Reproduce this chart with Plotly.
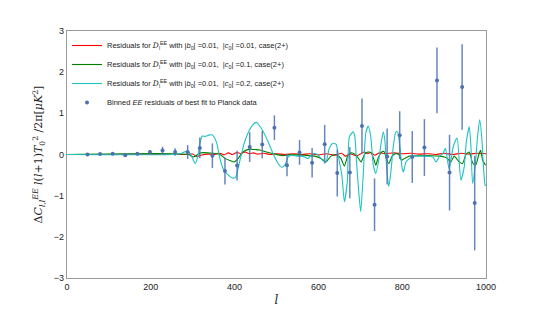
import plotly.graph_objects as go

# Binned EE residuals
bin_l = [49, 79, 109, 139, 168, 198, 228, 258, 288, 317, 347, 377, 406, 436, 466, 495,
         525, 555, 585, 615, 645, 675, 704, 734, 764, 794, 824, 853, 883, 913, 943, 973]
bin_val = [0.0, 0.01, 0.02, -0.02, 0.02, 0.06, 0.1, 0.06, 0.06, 0.16, -0.03, -0.4, -0.27, 0.18, 0.24, 0.65,
           -0.26, 0.05, -0.2, 0.25, -0.45, -0.44, 0.69, -1.22, -0.05, 0.47, -0.06, 0.17, 1.8, -0.44, 1.64, -1.18]
bin_err = [0.02, 0.02, 0.03, 0.03, 0.04, 0.05, 0.09, 0.09, 0.17, 0.25, 0.3, 0.33, 0.36, 0.36, 0.33, 0.3,
           0.27, 0.3, 0.36, 0.47, 0.57, 0.62, 0.67, 0.64, 0.68, 0.58, 0.63, 0.69, 0.8, 0.92, 1.04, 1.15]

# Residual curves
red_l = [0, 280, 300, 310, 320, 335, 350, 365, 375, 385, 395, 405, 415, 425, 435, 445, 455, 470, 485, 500,
         520, 540, 560, 580, 600, 620, 640, 655, 665, 675, 690, 700, 710, 718, 725, 735, 745, 760, 780, 800,
         820, 840, 860, 880, 900, 920, 940, 960, 980, 1000]
red_v = [0, 0, 0.01, -0.05, -0.02, 0.01, 0.0, 0.03, -0.01, 0.04, 0.0, 0.05, 0.02, 0.06, 0.02, 0.04, 0.01, 0.03, 0.0, 0.02,
         0.0, 0.02, 0.0, 0.02, -0.01, 0.02, -0.02, 0.03, -0.04, 0.02, -0.03, 0.01, 0.06, 0.02, 0.05, -0.02, 0.04, 0.02, 0.04, 0.02,
         0.03, 0.01, 0.02, 0.0, 0.03, 0.0, 0.03, 0.01, 0.03, 0.02]

green_l = [0, 290, 301, 312, 320, 348, 365, 378, 390, 399, 408, 420, 436, 449, 460, 476, 500, 516, 528, 545,
           567, 591, 607, 618, 630, 642, 654, 662, 670, 678, 688, 696, 702, 710, 718, 726, 733, 737, 742, 751,
           757, 762, 768, 776, 784, 792, 798, 805, 817, 840, 870, 890, 901, 908, 916, 924, 936, 944, 952, 960,
           968, 975, 983, 987, 992, 999]
green_v = [0, 0, -0.06, 0.0, 0.04, 0.03, 0.0, -0.1, -0.15, -0.18, -0.1, 0.06, 0.13, 0.12, 0.11, 0.06, 0.0, -0.03, -0.01, -0.01,
           -0.02, -0.04, -0.1, -0.18, -0.04, 0.0, -0.1, -0.28, -0.04, 0.04, 0.0, -0.1, -0.18, 0.0, 0.06, 0.04, -0.14, -0.26, -0.1, 0.06,
           0.07, -0.1, -0.22, -0.04, 0.02, 0.0, -0.14, -0.1, -0.04, -0.03, -0.03, -0.04, -0.06, -0.1, -0.18, -0.04, -0.18, -0.22, 0.0, 0.06,
           -0.2, -0.26, 0.0, 0.1, -0.14, -0.26]

cyan_l = [0, 250, 270, 283, 292, 300, 306, 312, 318, 323, 330, 338, 346, 353, 358, 365, 373, 385, 395, 402,
          412, 424, 440, 452, 464, 480, 492, 504, 512, 520, 528, 536, 548, 560, 567, 575, 587, 598, 610, 618,
          626, 634, 642, 650, 656, 662, 669, 674, 683, 687, 691, 697, 701, 707, 713, 719, 725, 731, 737, 744,
          750, 755, 759, 763, 768, 773, 779, 785, 789, 795, 800, 803, 809, 817, 825, 841, 857, 873, 881, 889,
          897, 903, 912, 922, 931, 940, 948, 953, 960, 964, 968, 974, 980, 985, 990, 994, 998, 1000]
cyan_v = [0, 0, 0.02, 0.07, 0.05, -0.1, -0.22, -0.05, 0.3, 0.45, 0.44, 0.47, 0.48, 0.39, 0.25, -0.1, -0.35, -0.5, -0.57, -0.56,
          -0.18, 0.31, 0.67, 0.78, 0.63, 0.31, 0.02, -0.22, -0.31, -0.26, -0.06, -0.02, -0.04, -0.04, -0.06, -0.1, 0.02, 0.0, -0.14, -0.18,
          0.15, 0.27, 0.25, -0.18, -0.5, -1.15, -0.66, 0.43, 0.55, 0.43, -0.18, -0.99, -1.39, -0.5, 0.51, 0.69, 0.43, -0.26, -0.46, -0.14,
          0.3, 0.55, 0.3, -0.34, -0.78, -0.42, 0.22, 0.55, 0.55, 0.15, -0.34, -0.42, -0.18, -0.1, -0.04, -0.04, -0.04, -0.06, -0.18, -0.04,
          0.02, 0.15, -0.35, 0.2, 0.4, -0.62, -0.3, 0.3, 0.67, 0.2, -0.7, -0.3, 0.45, 0.84, 0.4, -0.3, -0.75, -0.76]

x_ticks = [0, 200, 400, 600, 800, 1000]
y_ticks = [-3, -2, -1, 0, 1, 2, 3]

D = '<span style="font-family:DejaVu Serif"><i>D</i></span>'
names = [
    f"Residuals for {D}<sub>l</sub><sup>EE</sup> with |<i>b</i><sub>0</sub>| =0.01,  |<i>c</i><sub>0</sub>| =0.01, case(2+)",
    f"Residuals for {D}<sub>l</sub><sup>EE</sup> with |<i>b</i><sub>0</sub>| =0.01,  |<i>c</i><sub>0</sub>| =0.1, case(2+)",
    f"Residuals for {D}<sub>l</sub><sup>EE</sup> with |<i>b</i><sub>0</sub>| =0.01,  |<i>c</i><sub>0</sub>| =0.2, case(2+)",
    "Binned <i>EE</i> residuals of best fit to Planck data",
]

fig = go.Figure()
fig.add_trace(go.Scatter(x=red_l, y=red_v, mode="lines", name=names[0],
                         line=dict(color="#ff0000", width=1.1, shape="spline", smoothing=0.6)))
fig.add_trace(go.Scatter(x=green_l, y=green_v, mode="lines", name=names[1],
                         line=dict(color="#008000", width=1.1, shape="spline", smoothing=0.6)))
fig.add_trace(go.Scatter(x=cyan_l, y=cyan_v, mode="lines", name=names[2],
                         line=dict(color="#1fc3c3", width=1.1, shape="spline", smoothing=0.6)))
fig.add_trace(go.Scatter(x=bin_l, y=bin_val, mode="markers", name=names[3],
                         marker=dict(color="#4C72B0", size=4),
                         error_y=dict(type="data", array=bin_err, width=0, thickness=1.5,
                                      color="rgba(76,114,176,0.85)")))

fig.update_layout(
    width=540, height=310,
    margin=dict(l=67, r=54, t=31, b=32),
    paper_bgcolor="white", plot_bgcolor="white",
    font=dict(family="Liberation Sans, Arial, sans-serif", size=9, color="#222"),
    showlegend=True,
    legend=dict(x=0.0, y=1.0, xanchor="left", yanchor="top", bgcolor="rgba(0,0,0,0)",
                font=dict(size=7.5, color="#222"), itemwidth=30, tracegroupgap=0),
    xaxis=dict(range=[0, 1000], tickvals=x_ticks, showgrid=False, zeroline=False, automargin=False,
               showline=True, linecolor="#9a9a9a", linewidth=1.2, mirror=True, ticks="",
               tickfont=dict(size=9),
               title=dict(text="<i>l</i>", font=dict(family="DejaVu Serif, serif", size=12), standoff=4)),
    yaxis=dict(range=[-3, 3], tickvals=y_ticks, showgrid=False, zeroline=False, automargin=False,
               showline=True, linecolor="#9a9a9a", linewidth=1.2, mirror=True, ticks="",
               tickfont=dict(size=9),
               title=dict(text="Δ<i>C</i><sub><i>l,l</i></sub><sup><i>EE</i></sup> <i>l</i>(<i>l</i>+1)<i>T</i><sub>0</sub><sup>2</sup> /2π[<i>μK</i><sup>2</sup>]",
                          font=dict(family="DejaVu Serif, serif", size=11), standoff=8)),
)

fig.write_html("out.html", config={"displayModeBar": False},
               post_script="document.body.style.margin='0px';document.body.style.overflow='hidden';")
